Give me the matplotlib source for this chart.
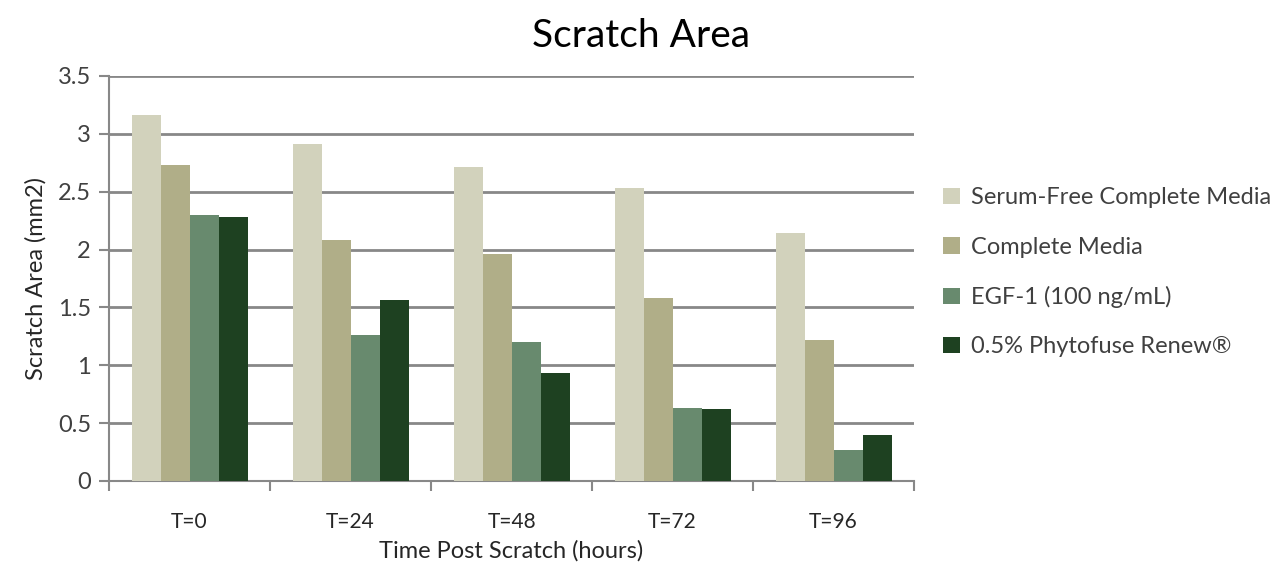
import numpy as np
import matplotlib.pyplot as plt
from matplotlib.ticker import FixedLocator

plt.rcParams['font.family'] = ['Lato', 'DejaVu Sans']

# 数据
categories = ['T=0', 'T=24', 'T=48', 'T=72', 'T=96']
series_names = ['Serum-Free Complete Media', 'Complete Media',
                'EGF-1 (100 ng/mL)', '0.5% Phytofuse Renew®']
serum_free = [3.16, 2.91, 2.71, 2.53, 2.14]
complete_media = [2.73, 2.08, 1.96, 1.58, 1.22]
egf1 = [2.30, 1.26, 1.20, 0.63, 0.27]
phytofuse = [2.28, 1.56, 0.93, 0.62, 0.40]
y_ticks = [0, 0.5, 1, 1.5, 2, 2.5, 3, 3.5]
y_tick_labels = ['0', '0.5', '1', '1.5', '2', '2.5', '3', '3.5']

colors = ['#D2D2BC', '#B0AE88', '#688A6E', '#1E4121']

fig = plt.figure(figsize=(12.71, 5.65), dpi=100)
ax = fig.add_axes([0.0858, 0.1487, 0.6334, 0.7168])

x = np.arange(len(categories))
width = 0.18
all_series = [serum_free, complete_media, egf1, phytofuse]
for i, (vals, name) in enumerate(zip(all_series, series_names)):
    ax.bar(x + (i - 1.5) * width, vals, width, color=colors[i], label=name,
           zorder=3)

ax.set_xlim(-0.5, len(categories) - 0.5)
ax.set_ylim(0, 3.5)
ax.set_yticks(y_ticks)
ax.set_yticklabels(y_tick_labels)
ax.set_xticks(x)
ax.set_xticklabels(categories)
ax.xaxis.set_minor_locator(FixedLocator(np.arange(-0.5, len(categories), 1)))
ax.tick_params(axis='x', which='major', length=0, pad=22, labelsize=15,
               labelcolor='#262626')
ax.tick_params(axis='x', which='minor', length=7, width=1.5, color='#888888')
ax.tick_params(axis='y', length=7, width=1.5, color='#888888', labelsize=17,
               labelcolor='#404040', pad=6)

ax.grid(axis='y', color='#888888', linewidth=2, zorder=0)
for s in ['top', 'right']:
    ax.spines[s].set_visible(False)
for s in ['left', 'bottom']:
    ax.spines[s].set_color('#888888')
    ax.spines[s].set_linewidth(1.5)

ax.set_ylabel('Scratch Area (mm2)', fontsize=17, color='#262626', labelpad=8)
ax.set_xlabel('Time Post Scratch (hours)', fontsize=17, color='#262626',
              labelpad=6)
fig.suptitle('Scratch Area', x=0.504, y=0.968, fontsize=28, color='#000000')

leg = ax.legend(loc='center left', bbox_to_anchor=(1.01, 0.515), frameon=False,
                fontsize=17, handlelength=0.7, handleheight=0.7,
                handletextpad=0.45, labelspacing=1.2, labelcolor='#404040')

fig.savefig('out.png', dpi=100)
